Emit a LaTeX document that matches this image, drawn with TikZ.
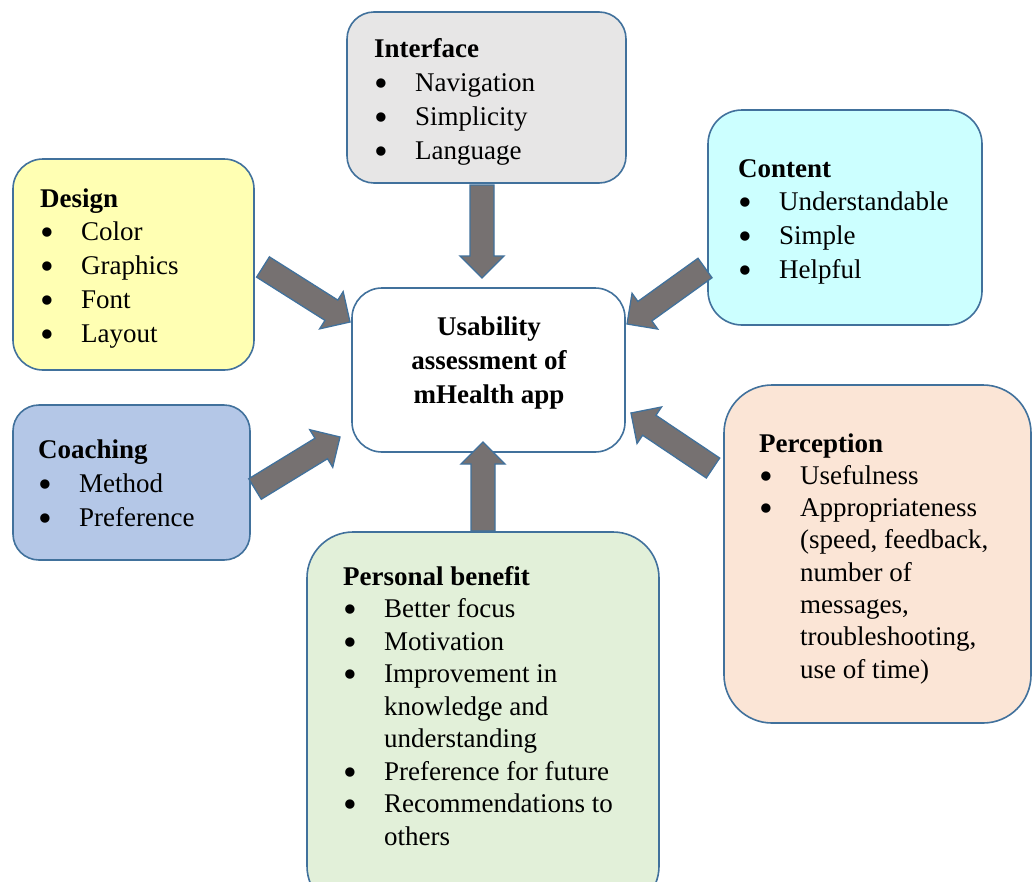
\documentclass[tikz,border=0pt]{standalone}
\usepackage{fontspec}
\setmainfont{Liberation Serif}
\usetikzlibrary{calc}
\definecolor{bordblue}{HTML}{41719C}
\definecolor{arrgray}{HTML}{767171}
\definecolor{cInterface}{HTML}{E7E6E6}
\definecolor{cDesign}{HTML}{FFFFB3}
\definecolor{cContent}{HTML}{CCFFFF}
\definecolor{cCoach}{HTML}{B4C7E7}
\definecolor{cPercep}{HTML}{FBE5D6}
\definecolor{cPersonal}{HTML}{E2F0D9}
\newcommand{\bl}{\makebox[41pt][l]{\hspace{0.5pt}\smash{\raisebox{-5pt}{\scalebox{1.45}{\textbullet}}}}}
\newcommand{\ind}{\makebox[41pt]{}}
\newcommand{\blockarrow}[2]{%
  \coordinate (hb) at ($(#2)!22pt!(#1)$);
  \filldraw[arrowstyle]
    ($(#1)!12pt!90:(#2)$) -- ($(hb)!12pt!90:(#2)$) -- ($(hb)!22pt!90:(#2)$) -- (#2)
    -- ($(hb)!22pt!-90:(#2)$) -- ($(hb)!12pt!-90:(#2)$) -- ($(#1)!12pt!-90:(#2)$) -- cycle;}
\tikzset{
  box/.style={draw=bordblue, line width=1.6pt, inner sep=0pt, rectangle},
  txt/.style={inner sep=0pt, anchor=base west, font=\fontsize{27}{34}\selectfont},
  ctxt/.style={inner sep=0pt, anchor=base, font=\fontsize{27}{34}\selectfont\bfseries},
  arrowstyle/.style={fill=arrgray, draw=bordblue, line width=1.3pt, line join=miter}
}
\begin{document}
\begin{tikzpicture}[x=1pt,y=-1pt]
\useasboundingbox (0,0) rectangle (1032,881);
\clip (0,0) rectangle (1032,881);
\fill[white] (0,0) rectangle (1032,881);
% boxes
\node[box, fill=cInterface, rounded corners=27pt, minimum width=279pt, minimum height=171pt] (interface) at (486.5,97.5) {};
\node[box, fill=cDesign, rounded corners=30pt, minimum width=241pt, minimum height=211pt] (design) at (133.5,264.5) {};
\node[box, fill=cContent, rounded corners=34pt, minimum width=274pt, minimum height=215pt] (content) at (845,217.5) {};
\node[box, fill=white, rounded corners=30pt, minimum width=273pt, minimum height=164pt] (central) at (488.5,370) {};
\node[box, fill=cCoach, rounded corners=26pt, minimum width=237pt, minimum height=155pt] (coaching) at (131.5,482.5) {};
\node[box, fill=cPercep, rounded corners=48pt, minimum width=307pt, minimum height=338pt] (perception) at (877.5,554) {};
\node[box, fill=cPersonal, rounded corners=46pt, minimum width=352pt, minimum height=380pt] (personal) at (483,722) {};
% arrow end points
\coordinate (aIs) at (482,185); \coordinate (aIe) at (482,278);
\coordinate (aPs) at (483,531); \coordinate (aPe) at (483,442);
\coordinate (aDs) at (263,267); \coordinate (aDe) at (350,322);
\coordinate (aCs) at (255,489); \coordinate (aCe) at (340,437);
\coordinate (aTs) at (705,268); \coordinate (aTe) at (627,324);
\coordinate (aRs) at (713,468); \coordinate (aRe) at (631,413);
\blockarrow{aIs}{aIe}
\blockarrow{aPs}{aPe}
\blockarrow{aDs}{aDe}
\blockarrow{aCs}{aCe}
\blockarrow{aTs}{aTe}
\blockarrow{aRs}{aRe}
% central text
\node[ctxt] (c1) at (489,335) {Usability};
\node[ctxt] (c2) at (489,369) {assessment of};
\node[ctxt] (c3) at (489,403) {mHealth app};
% interface
\node[txt] (intT) at (374,57) {\textbf{Interface}};
\foreach \t [count=\i] in {Navigation,Simplicity,Language}
  \node[txt] (int\i) at (374,57+34*\i) {\bl\t};
% design
\node[txt] (desT) at (40,207) {\textbf{Design}};
\foreach \t [count=\i] in {Color,Graphics,Font,Layout}
  \node[txt] (des\i) at (40,207+33.75*\i) {\bl\t};
% content
\node[txt] (conT) at (738,177) {\textbf{Content}};
\foreach \t [count=\i] in {Understandable,Simple,Helpful}
  \node[txt] (con\i) at (738,177+33.7*\i) {\bl\t};
% coaching
\node[txt] (coaT) at (38,458) {\textbf{Coaching}};
\foreach \t [count=\i] in {Method,Preference}
  \node[txt] (coa\i) at (38,458+34*\i) {\bl\t};
% perception
\node[txt] (perT) at (759,452) {\textbf{Perception}};
\foreach \t [count=\i] in {{\bl Usefulness},{\bl Appropriateness},{\ind(speed, feedback,},{\ind number of},{\ind messages,},{\ind troubleshooting,},{\ind use of time)}}
  \node[txt] (per\i) at (759,452+32.3*\i) {\t};
% personal benefit
\node[txt] (pbT) at (343,585) {\textbf{Personal benefit}};
\foreach \t [count=\i] in {{\bl Better focus},{\bl Motivation},{\bl Improvement in},{\ind knowledge and},{\ind understanding},{\bl Preference for future},{\bl Recommendations to},{\ind others}}
  \node[txt] (pb\i) at (343,585+32.5*\i) {\t};
\end{tikzpicture}
\end{document}
